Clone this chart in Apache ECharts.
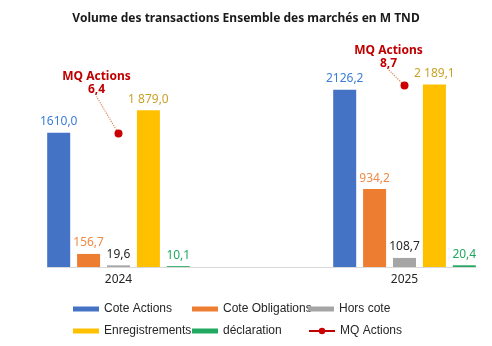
<!DOCTYPE html>
<html>
<head>
<meta charset="utf-8">
<script src="https://cdn.jsdelivr.net/npm/echarts@6/dist/echarts.min.js"></script>
<style>
  html, body { margin: 0; padding: 0; background: #fff; }
  #chart { width: 492px; height: 346px; }
</style>
</head>
<body>
<div id="chart"></div>
<script>
// Years on the horizontal axis
const years = ['2024', '2025'];

// Transaction volumes in millions of TND
const coteActions = [1610.0, 2126.2];
const coteObligations = [156.7, 934.2];
const horsCote = [19.6, 108.7];
const enregistrements = [1879.0, 2189.1];
const declaration = [10.1, 20.4];

// MQ Actions (secondary axis)
const mqActions = [6.4, 8.7];

const FONT = 'Noto Sans';

function frNum(v, groupThousands) {
  const parts = v.toFixed(1).split('.');
  let intPart = parts[0];
  if (groupThousands) intPart = intPart.replace(/\B(?=(\d{3})+(?!\d))/g, ' ');
  return intPart + ',' + parts[1];
}

function pairs(values) {
  return years.map((y, i) => [Number(y), values[i]]);
}

function barSeries(name, values, color, labelColor, groupThousands) {
  return {
    name: name,
    type: 'bar',
    barWidth: 23,
    barGap: '30%',
    data: pairs(values),
    itemStyle: { color: color },
    label: {
      show: true,
      position: 'top',
      distance: 5,
      color: labelColor,
      fontFamily: FONT,
      fontSize: 12,
      formatter: p => frNum(p.value[1], groupThousands)
    }
  };
}

const chart = echarts.init(document.getElementById('chart'), null, { renderer: 'canvas' });

const legendText = { fontFamily: 'Liberation Sans', fontSize: 12, color: '#262626', lineHeight: 14 };
const legendBase = {
  orient: 'vertical',
  itemWidth: 26,
  itemHeight: 5,
  itemGap: 8,
  icon: 'rect',
  padding: 0,
  textStyle: legendText,
  selectedMode: false
};

chart.setOption({
  animation: false,
  backgroundColor: '#ffffff',
  title: {
    text: 'Volume des transactions Ensemble des marchés en M TND',
    left: 'center',
    top: 8,
    textStyle: { fontFamily: FONT, fontSize: 12, fontWeight: 'bold', color: '#1a1a1a' }
  },
  legend: [
    Object.assign({}, legendBase, { left: 73, top: 302, data: ['Cote Actions', 'Enregistrements'] }),
    Object.assign({}, legendBase, { left: 192, top: 302, data: ['Cote Obligations', 'déclaration'] }),
    Object.assign({}, legendBase, { left: 308, top: 302, data: ['Hors cote'] }),
    Object.assign({}, legendBase, {
      left: 308, top: 324, itemHeight: 8, icon: null,
      data: [{ name: 'MQ Actions', lineStyle: { opacity: 1, width: 2, color: '#c00000' } }]
    })
  ],
  grid: { left: 47, right: 16, top: 58.5, bottom: 79 },
  xAxis: {
    type: 'value',
    min: 2023.75,
    max: 2025.25,
    interval: 0.25,
    axisLine: { show: true, onZero: false, lineStyle: { color: '#d9d9d9', width: 1 } },
    axisTick: { show: false },
    splitLine: { show: false },
    axisLabel: {
      margin: 7,
      color: '#262626',
      fontFamily: FONT,
      fontSize: 12,
      showMinLabel: true,
      showMaxLabel: true,
      formatter: v => (Math.abs(v - Math.round(v)) < 1e-6 ? String(Math.round(v)) : '')
    }
  },
  yAxis: [
    { type: 'value', min: 0, max: 2500, show: false, splitLine: { show: false } },
    { type: 'value', min: 0, max: 10, show: false, splitLine: { show: false } }
  ],
  series: [
    barSeries('Cote Actions', coteActions, '#4472c4', '#3b7dd8', false),
    barSeries('Cote Obligations', coteObligations, '#ed7d31', '#ed8a45', false),
    barSeries('Hors cote', horsCote, '#a5a5a5', '#262626', false),
    barSeries('Enregistrements', enregistrements, '#ffc000', '#c9a227', true),
    barSeries('déclaration', declaration, '#21a861', '#21a861', false),
    {
      name: 'MQ Actions',
      type: 'line',
      yAxisIndex: 1,
      data: pairs(mqActions),
      symbol: 'circle',
      symbolSize: 8,
      itemStyle: { color: '#cc0000' },
      lineStyle: { opacity: 0, width: 2, color: '#c00000' },
      z: 5,
      label: {
        show: true,
        position: 'top',
        distance: 5,
        color: '#c00000',
        fontFamily: FONT,
        fontSize: 12,
        fontWeight: 'bold',
        lineHeight: 13,
        align: 'center',
        formatter: p => 'MQ Actions\n' + frNum(p.value[1], false)
      },
      labelLine: {
        show: true,
        lineStyle: { color: '#d98a5a', type: 'dotted', width: 1.2 }
      },
      labelLayout: p => (p.dataIndex === 0 ? { dx: -22, dy: -28 } : { dx: -16, dy: -7 })
    }
  ]
});
</script>
</body>
</html>
